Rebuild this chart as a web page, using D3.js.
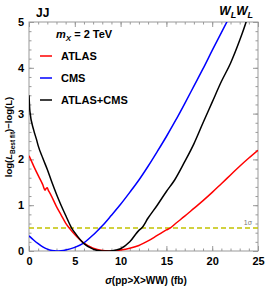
<!DOCTYPE html>
<meta charset="utf-8">
<body style="margin:0;background:#fff">
<style>
  text { font-family: "Liberation Sans", Arial, sans-serif; font-weight: bold; fill: #000; }
  .frame { fill: none; stroke: #999; stroke-width: 1; }
  .tick line { stroke: #999; }
  .curve { fill: none; stroke-width: 1.5; }
</style>
<svg width="266" height="288"></svg>
<script src="https://d3js.org/d3.v7.min.js"></script>
<script>

// data
var xTicks = [0, 5, 10, 15, 20, 25];
var yTicks = [0, 1, 2, 3, 4, 5];

var atlasX = [0, 0.5, 1, 1.5, 1.75, 1.85, 2.0, 2.1, 2.3, 3, 3.5, 4, 4.4, 5, 6, 7, 8, 8.7, 9.5, 10, 11, 12, 13, 14, 15, 15.4, 16, 17, 18, 19, 20, 21, 22, 23, 24, 25];
var atlasY = [2.08, 1.86, 1.65, 1.45, 1.33, 1.36, 1.38, 1.33, 1.26, 0.97, 0.79, 0.61, 0.5, 0.36, 0.17, 0.06, 0.01, 0.0, 0.005, 0.02, 0.06, 0.12, 0.22, 0.34, 0.46, 0.5, 0.6, 0.76, 0.93, 1.1, 1.28, 1.47, 1.66, 1.85, 2.03, 2.2];

var cmsX = [0, 0.5, 1, 1.5, 2, 2.5, 3, 3.5, 4, 5, 6, 7, 7.75, 8, 9, 10, 11, 12, 13, 14, 15, 16, 17, 18, 19, 20, 21, 21.6, 22];
var cmsY = [0.33, 0.24, 0.16, 0.09, 0.04, 0.01, 0.0, 0.005, 0.02, 0.08, 0.18, 0.35, 0.5, 0.55, 0.78, 1.02, 1.28, 1.55, 1.85, 2.17, 2.5, 2.85, 3.22, 3.6, 3.98, 4.38, 4.77, 5.0, 5.15];

var combX = [0, 0.1, 0.5, 0.84, 1, 1.5, 2, 2.5, 3, 3.5, 4, 4.66, 5, 6, 7, 8, 8.8, 9.5, 10, 11, 12, 12.3, 13, 14, 15, 15.9, 17, 18, 19, 20, 21, 22, 23, 23.7, 24];
var combY = [3.4, 3.05, 2.65, 2.42, 2.3, 2.03, 1.78, 1.5, 1.24, 1.0, 0.78, 0.5, 0.4, 0.16, 0.04, 0.0, 0.0, 0.02, 0.05, 0.2, 0.45, 0.5, 0.72, 1.0, 1.3, 1.55, 1.95, 2.34, 2.8, 3.25, 3.7, 4.1, 4.6, 5.0, 5.2];

var seriesNames = ["ATLAS", "CMS", "ATLAS+CMS"];
var seriesColors = ["#ff0000", "#0000ff", "#000000"];
var oneSigma = 0.5;

var svg = d3.select("svg");
var pLeft = 29, pRight = 258, pTop = 22, pBottom = 251;

var x = d3.scaleLinear().domain([0, 25]).range([pLeft, pRight]);
var y = d3.scaleLinear().domain([0, 5]).range([pBottom, pTop]);

svg.append("clipPath").attr("id", "plotclip")
  .append("rect")
    .attr("x", pLeft).attr("y", pTop)
    .attr("width", pRight - pLeft).attr("height", pBottom - pTop);

// ticks on all four sides, pointing inward
function frameAxis(axis, tr, labels) {
  var g = svg.append("g").attr("transform", tr).call(axis);
  g.select(".domain").remove();
  if (!labels) g.selectAll("text").remove();
  return g;
}
var minorX = d3.range(0, 25.01, 1), minorY = d3.range(0, 5.01, 0.2);

frameAxis(d3.axisBottom(x).tickValues(minorX).tickSize(-2.5).tickFormat(""), "translate(0," + pBottom + ")", false);
frameAxis(d3.axisTop(x).tickValues(minorX).tickSize(-2.5).tickFormat(""), "translate(0," + pTop + ")", false);
frameAxis(d3.axisLeft(y).tickValues(minorY).tickSize(-2.5).tickFormat(""), "translate(" + pLeft + ",0)", false);
frameAxis(d3.axisRight(y).tickValues(minorY).tickSize(-2.5).tickFormat(""), "translate(" + pRight + ",0)", false);

var xb = frameAxis(d3.axisBottom(x).tickValues(xTicks).tickSize(-5).tickPadding(6).tickFormat(d3.format("d")), "translate(0," + pBottom + ")", true);
xb.selectAll("text").style("font-size", "11px").style("font-family", "Liberation Sans, Arial, sans-serif");
frameAxis(d3.axisTop(x).tickValues(xTicks).tickSize(-5), "translate(0," + pTop + ")", false);
var yl = frameAxis(d3.axisLeft(y).tickValues(yTicks).tickSize(-5).tickPadding(5).tickFormat(d3.format("d")), "translate(" + pLeft + ",0)", true);
yl.selectAll("text").style("font-size", "11px").style("font-family", "Liberation Sans, Arial, sans-serif");
frameAxis(d3.axisRight(y).tickValues(yTicks).tickSize(-5), "translate(" + pRight + ",0)", false);

svg.append("rect").attr("class", "frame")
  .attr("x", pLeft).attr("y", pTop)
  .attr("width", pRight - pLeft).attr("height", pBottom - pTop);

var plot = svg.append("g").attr("clip-path", "url(#plotclip)");

// 1 sigma line
plot.append("line")
  .attr("x1", x(0)).attr("x2", x(25))
  .attr("y1", y(oneSigma)).attr("y2", y(oneSigma))
  .attr("stroke", "#c2c200").attr("stroke-width", 1.5)
  .attr("stroke-dasharray", "5,3");

svg.append("text")
  .attr("x", x(23.9)).attr("y", y(oneSigma) - 3)
  .attr("text-anchor", "middle")
  .style("font-size", "7px").style("font-weight", "normal").style("fill", "#777")
  .text("1σ");

var line = d3.line()
  .x(function(d) { return x(d[0]); })
  .y(function(d) { return y(d[1]); })
  .curve(d3.curveMonotoneX);

var series = [d3.zip(atlasX, atlasY), d3.zip(cmsX, cmsY), d3.zip(combX, combY)];
series.forEach(function(s, i) {
  plot.append("path").attr("class", "curve")
    .attr("d", line(s))
    .attr("stroke", seriesColors[i]);
});

// legend
var mx = svg.append("text").attr("x", 56).attr("y", 38).style("font-size", "11px");
mx.append("tspan").style("font-style", "italic").text("m");
mx.append("tspan").attr("dy", 2.5).style("font-size", "8px").style("font-style", "italic").text("X");
mx.append("tspan").attr("dy", -2.5).text(" = 2 TeV");

seriesNames.forEach(function(n, i) {
  var ly = 56 + i * 22;
  svg.append("line")
    .attr("x1", 40).attr("x2", 52).attr("y1", ly).attr("y2", ly)
    .attr("stroke", seriesColors[i]).attr("stroke-width", 1.5);
  svg.append("text").attr("x", 61).attr("y", ly + 4)
    .style("font-size", "11px").text(n);
});

// titles
svg.append("text").attr("x", 36).attr("y", 17).style("font-size", "12px").text("JJ");
var wl = svg.append("text").attr("x", 253).attr("y", 15).attr("text-anchor", "end")
  .style("font-size", "12px").style("font-style", "italic");
wl.append("tspan").text("W");
wl.append("tspan").attr("dy", 2.5).style("font-size", "9px").text("L");
wl.append("tspan").attr("dy", -2.5).text("W");
wl.append("tspan").attr("dy", 2.5).style("font-size", "9px").text("L");

// axis labels
var xl = svg.append("text").attr("x", 146).attr("y", 284).attr("text-anchor", "middle")
  .style("font-size", "10px");
xl.append("tspan").style("font-style", "italic").text("σ");
xl.append("tspan").text("(pp>X>WW) (fb)");

var ylab = svg.append("text")
  .attr("transform", "translate(12,137) rotate(-90)")
  .attr("text-anchor", "middle")
  .style("font-size", "9.5px");
ylab.append("tspan").text("log(");
ylab.append("tspan").style("font-style", "italic").text("L");
ylab.append("tspan").attr("dy", 2.5).style("font-size", "6.5px").text("Best fit");
ylab.append("tspan").attr("dy", -2.5).text(")−log(L)");

</script>
</body>
